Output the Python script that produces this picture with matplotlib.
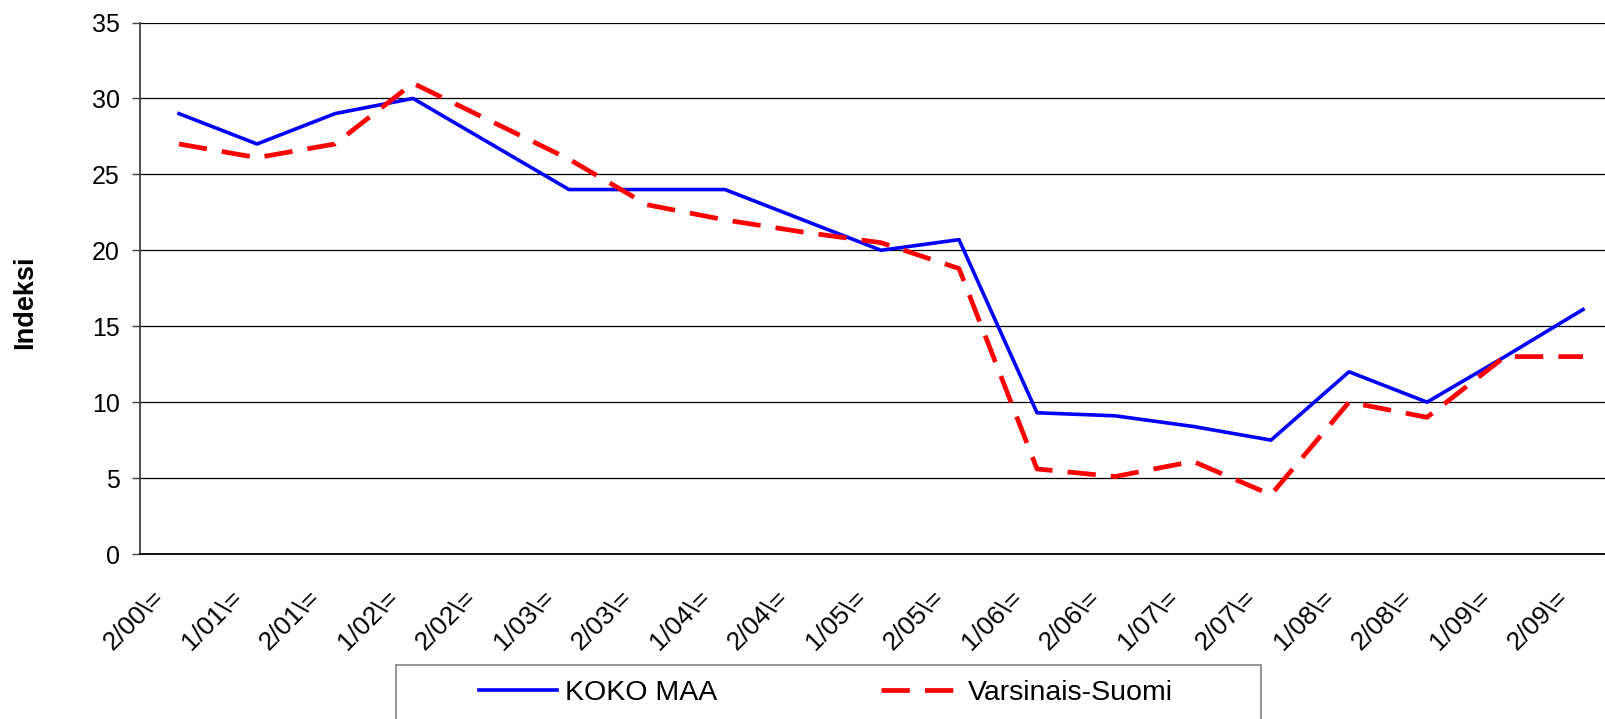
import matplotlib
matplotlib.use('Agg')
import matplotlib.pyplot as plt
import matplotlib.transforms as mtransforms
from matplotlib.patches import Rectangle
from matplotlib.lines import Line2D

plt.rcParams['font.family'] = ['Liberation Sans', 'DejaVu Sans']

periods = ['2/00\\=', '1/01\\=', '2/01\\=', '1/02\\=', '2/02\\=', '1/03\\=', '2/03\\=',
           '1/04\\=', '2/04\\=', '1/05\\=', '2/05\\=', '1/06\\=', '2/06\\=', '1/07\\=',
           '2/07\\=', '1/08\\=', '2/08\\=', '1/09\\=', '2/09\\=']
koko_maa = [29, 27, 29, 30, 27, 24, 24, 24, 22, 20, 20.7, 9.3, 9.1, 8.4, 7.5, 12, 10, 13, 16.1]
varsinais_suomi = [27, 26.1, 27, 31, 28.5, 26, 23, 22, 21.2, 20.5, 18.8, 5.6, 5.1, 6.1, 3.9, 10, 9, 13, 13]

W, H = 1605, 719
fig = plt.figure(figsize=(W / 100, H / 100), dpi=100)
ax = fig.add_axes([140 / W, 1 - 554 / H, 1482 / W, (554 - 22.5) / H])

blue_kw = dict(color='#0000ff', lw=2.6)
red_kw = dict(color='#ff0000', lw=3.4, dashes=(6, 3.2))

x = list(range(len(periods)))
ax.plot(x, koko_maa, zorder=3, **blue_kw)
ax.plot(x, varsinais_suomi, zorder=3, **red_kw)

ax.set_xlim(-0.5, len(periods) - 0.5)
ax.set_ylim(0, 35)
ax.set_yticks(range(0, 36, 5))
ax.yaxis.grid(True, color='black', lw=0.9)
ax.set_axisbelow(True)

for side in ['top', 'right']:
    ax.spines[side].set_visible(False)
ax.spines['left'].set_color('#404040')
ax.spines['left'].set_linewidth(1.3)
ax.spines['bottom'].set_color('black')
ax.spines['bottom'].set_linewidth(1.3)

ax.tick_params(axis='y', length=6, width=1, color='#404040', labelsize=18, pad=8.5)
ax.tick_params(axis='x', length=0, labelsize=19, pad=0)

# rotated labels end just left of their category, as in the original
ax.set_xticks(x)
ax.set_xticklabels(periods, rotation=45)
offset = mtransforms.ScaledTranslation(-0.45, -0.66, fig.dpi_scale_trans)
for lab in ax.get_xticklabels():
    lab.set_ha('center')
    lab.set_va('center')
    lab.set_transform(lab.get_transform() + offset)

fig.text(25 / W, 1 - 302 / H, 'Indeksi', rotation=90, fontsize=19.5, fontweight='bold',
         ha='center', va='center')

# legend box, cut off by the bottom of the image
fig.patches.append(Rectangle((396 / W, -0.05), 865 / W, 0.05 + (719 - 665) / H,
                             transform=fig.transFigure, facecolor='white',
                             edgecolor='#808080', lw=1.2))
handles = [Line2D([], [], **blue_kw), Line2D([], [], **red_kw)]
fig.legend(handles, ['KOKO MAA', 'Varsinais-Suomi'], ncol=2, frameon=False,
           loc='center left', bbox_to_anchor=(479 / W, 1 - 693 / H), borderpad=0,
           borderaxespad=0, fontsize=20.5, handlelength=2.75, handletextpad=0.28,
           columnspacing=5.75)

fig.savefig('out.png', dpi=100)
